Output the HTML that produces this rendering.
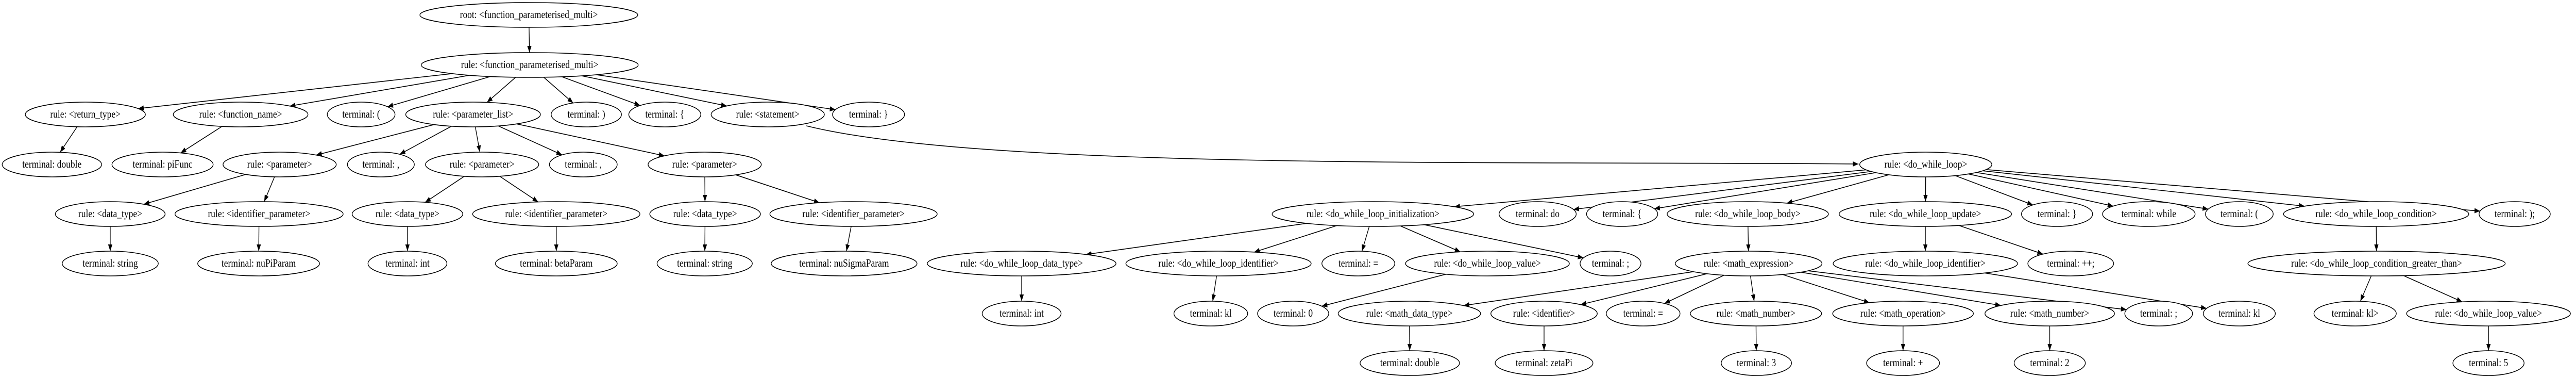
<!DOCTYPE html>
<html><head><meta charset="utf-8"><style>
html,body{margin:0;padding:0;background:#fff;overflow:hidden;width:100%;height:731px;}
svg{display:block;width:100%;height:731px;}
text{font-family:"Liberation Serif",serif;font-size:21px;text-anchor:middle;dominant-baseline:central;fill:#000;}
ellipse{fill:#fff;stroke:#000;stroke-width:1.6;}
</style></head><body>
<svg id="s" viewBox="0 0 6006 731" preserveAspectRatio="none" xmlns="http://www.w3.org/2000/svg">
<defs><marker id="a" markerUnits="userSpaceOnUse" markerWidth="14" markerHeight="10" refX="13" refY="5" orient="auto"><path d="M0,0 L13,5 L0,10 z" fill="#000"/></marker></defs>
<g id="edges" stroke="#000" stroke-width="1.6" fill="none">
<path d="M1880 244 C2300 330, 3500 312, 4333 318" marker-end="url(#a)"/>
</g>
<g id="nodes">
<ellipse id="n0" cx="1233" cy="29" rx="254" ry="24"/><text x="1233" y="29">root: &lt;function_parameterised_multi&gt;</text>
<ellipse id="n1" cx="1235" cy="126" rx="253" ry="24"/><text x="1235" y="126">rule: &lt;function_parameterised_multi&gt;</text>

<ellipse id="rt" cx="199" cy="222" rx="140" ry="24"/><text x="199" y="222">rule: &lt;return_type&gt;</text>
<ellipse id="fn" cx="561" cy="222" rx="157" ry="24"/><text x="561" y="222">rule: &lt;function_name&gt;</text>
<ellipse id="lp" cx="842" cy="222" rx="79" ry="24"/><text x="842" y="222">terminal: (</text>
<ellipse id="pl" cx="1103" cy="222" rx="157" ry="24"/><text x="1103" y="222">rule: &lt;parameter_list&gt;</text>
<ellipse id="rp" cx="1367" cy="222" rx="82" ry="24"/><text x="1367" y="222">terminal: )</text>
<ellipse id="lb" cx="1550" cy="222" rx="84" ry="24"/><text x="1550" y="222">terminal: {</text>
<ellipse id="st" cx="1790" cy="222" rx="132" ry="24"/><text x="1790" y="222">rule: &lt;statement&gt;</text>
<ellipse id="rb" cx="2025" cy="222" rx="84" ry="24"/><text x="2025" y="222">terminal: }</text>

<ellipse id="tdbl" cx="121" cy="319" rx="116" ry="24"/><text x="121" y="319">terminal: double</text>
<ellipse id="tpf" cx="379" cy="319" rx="118" ry="24"/><text x="379" y="319">terminal: piFunc</text>
<ellipse id="p1" cx="652" cy="319" rx="132" ry="24"/><text x="652" y="319">rule: &lt;parameter&gt;</text>
<ellipse id="c1" cx="888" cy="319" rx="78" ry="24"/><text x="888" y="319">terminal: ,</text>
<ellipse id="p2" cx="1124" cy="319" rx="132" ry="24"/><text x="1124" y="319">rule: &lt;parameter&gt;</text>
<ellipse id="c2" cx="1360" cy="319" rx="79" ry="24"/><text x="1360" y="319">terminal: ,</text>
<ellipse id="p3" cx="1643" cy="319" rx="132" ry="24"/><text x="1643" y="319">rule: &lt;parameter&gt;</text>
<ellipse id="dw" cx="4490" cy="319" rx="154" ry="24"/><text x="4490" y="319">rule: &lt;do_while_loop&gt;</text>

<ellipse id="dt1" cx="257" cy="415" rx="128" ry="24"/><text x="257" y="415">rule: &lt;data_type&gt;</text>
<ellipse id="ip1" cx="604" cy="415" rx="196" ry="24"/><text x="604" y="415">rule: &lt;identifier_parameter&gt;</text>
<ellipse id="dt2" cx="950" cy="415" rx="129" ry="24"/><text x="950" y="415">rule: &lt;data_type&gt;</text>
<ellipse id="ip2" cx="1297" cy="415" rx="195" ry="24"/><text x="1297" y="415">rule: &lt;identifier_parameter&gt;</text>
<ellipse id="dt3" cx="1644" cy="415" rx="129" ry="24"/><text x="1644" y="415">rule: &lt;data_type&gt;</text>
<ellipse id="ip3" cx="1990" cy="415" rx="195" ry="24"/><text x="1990" y="415">rule: &lt;identifier_parameter&gt;</text>
<ellipse id="ini" cx="3201" cy="415" rx="235" ry="24"/><text x="3201" y="415">rule: &lt;do_while_loop_initialization&gt;</text>
<ellipse id="tdo" cx="3585" cy="415" rx="90" ry="24"/><text x="3585" y="415">terminal: do</text>
<ellipse id="tlb2" cx="3782" cy="415" rx="83" ry="24"/><text x="3782" y="415">terminal: {</text>
<ellipse id="bod" cx="4075" cy="415" rx="188" ry="24"/><text x="4075" y="415">rule: &lt;do_while_loop_body&gt;</text>
<ellipse id="upd" cx="4489" cy="415" rx="201" ry="24"/><text x="4489" y="415">rule: &lt;do_while_loop_update&gt;</text>
<ellipse id="trb2" cx="4796" cy="415" rx="83" ry="24"/><text x="4796" y="415">terminal: }</text>
<ellipse id="twh" cx="5010" cy="415" rx="108" ry="24"/><text x="5010" y="415">terminal: while</text>
<ellipse id="tlp2" cx="5221" cy="415" rx="79" ry="24"/><text x="5221" y="415">terminal: (</text>
<ellipse id="cond" cx="5540" cy="415" rx="216" ry="24"/><text x="5540" y="415">rule: &lt;do_while_loop_condition&gt;</text>
<ellipse id="trp2" cx="5863" cy="415" rx="83" ry="24"/><text x="5863" y="415">terminal: );</text>

<ellipse id="s1" cx="257" cy="511" rx="112" ry="24"/><text x="257" y="511">terminal: string</text>
<ellipse id="np" cx="603" cy="511" rx="142" ry="24"/><text x="603" y="511">terminal: nuPiParam</text>
<ellipse id="i1" cx="950" cy="511" rx="92" ry="24"/><text x="950" y="511">terminal: int</text>
<ellipse id="bp" cx="1297" cy="511" rx="142" ry="24"/><text x="1297" y="511">terminal: betaParam</text>
<ellipse id="s2" cx="1643" cy="511" rx="111" ry="24"/><text x="1643" y="511">terminal: string</text>
<ellipse id="ns" cx="1968" cy="511" rx="170" ry="24"/><text x="1968" y="511">terminal: nuSigmaParam</text>
<ellipse id="idt" cx="2382" cy="511" rx="220" ry="24"/><text x="2382" y="511">rule: &lt;do_while_loop_data_type&gt;</text>
<ellipse id="iid" cx="2841" cy="511" rx="216" ry="24"/><text x="2841" y="511">rule: &lt;do_while_loop_identifier&gt;</text>
<ellipse id="ieq" cx="3167" cy="511" rx="85" ry="24"/><text x="3167" y="511">terminal: =</text>
<ellipse id="ival" cx="3468" cy="511" rx="191" ry="24"/><text x="3468" y="511">rule: &lt;do_while_loop_value&gt;</text>
<ellipse id="isc" cx="3755" cy="511" rx="71" ry="24"/><text x="3755" y="511">terminal: ;</text>
<ellipse id="me" cx="4077" cy="511" rx="171" ry="24"/><text x="4077" y="511">rule: &lt;math_expression&gt;</text>
<ellipse id="uid" cx="4489" cy="511" rx="215" ry="24"/><text x="4489" y="511">rule: &lt;do_while_loop_identifier&gt;</text>
<ellipse id="upp" cx="4828" cy="511" rx="100" ry="24"/><text x="4828" y="511">terminal: ++;</text>
<ellipse id="cgt" cx="5541" cy="511" rx="300" ry="24"/><text x="5541" y="511">rule: &lt;do_while_loop_condition_greater_than&gt;</text>

<ellipse id="ti" cx="2382" cy="608" rx="92" ry="24"/><text x="2382" y="608">terminal: int</text>
<ellipse id="tk" cx="2823" cy="608" rx="86" ry="24"/><text x="2823" y="608">terminal: kl</text>
<ellipse id="t0" cx="3015" cy="608" rx="83" ry="24"/><text x="3015" y="608">terminal: 0</text>
<ellipse id="mdt" cx="3286" cy="608" rx="166" ry="24"/><text x="3286" y="608">rule: &lt;math_data_type&gt;</text>
<ellipse id="mid" cx="3600" cy="608" rx="124" ry="24"/><text x="3600" y="608">rule: &lt;identifier&gt;</text>
<ellipse id="meq" cx="3831" cy="608" rx="86" ry="24"/><text x="3831" y="608">terminal: =</text>
<ellipse id="mn1" cx="4094" cy="608" rx="153" ry="24"/><text x="4094" y="608">rule: &lt;math_number&gt;</text>
<ellipse id="mo" cx="4437" cy="608" rx="164" ry="24"/><text x="4437" y="608">rule: &lt;math_operation&gt;</text>
<ellipse id="mn2" cx="4779" cy="608" rx="151" ry="24"/><text x="4779" y="608">rule: &lt;math_number&gt;</text>
<ellipse id="msc" cx="5033" cy="608" rx="79" ry="24"/><text x="5033" y="608">terminal: ;</text>
<ellipse id="tk2" cx="5221" cy="608" rx="84" ry="24"/><text x="5221" y="608">terminal: kl</text>
<ellipse id="tkg" cx="5491" cy="608" rx="96" ry="24"/><text x="5491" y="608">terminal: kl&gt;</text>
<ellipse id="cv" cx="5802" cy="608" rx="191" ry="24"/><text x="5802" y="608">rule: &lt;do_while_loop_value&gt;</text>

<ellipse id="td" cx="3287" cy="704" rx="116" ry="24"/><text x="3287" y="704">terminal: double</text>
<ellipse id="tz" cx="3600" cy="704" rx="114" ry="24"/><text x="3600" y="704">terminal: zetaPi</text>
<ellipse id="t3" cx="4095" cy="704" rx="82" ry="24"/><text x="4095" y="704">terminal: 3</text>
<ellipse id="tp" cx="4437" cy="704" rx="85" ry="24"/><text x="4437" y="704">terminal: +</text>
<ellipse id="t2" cx="4779" cy="704" rx="83" ry="24"/><text x="4779" y="704">terminal: 2</text>
<ellipse id="t5" cx="5802" cy="704" rx="83" ry="24"/><text x="5802" y="704">terminal: 5</text>
</g>
</svg>
<script>
var E=[["n0","n1"],["n1","rt"],["n1","fn"],["n1","lp"],["n1","pl"],["n1","rp"],["n1","lb"],["n1","st"],["n1","rb"],
["rt","tdbl"],["fn","tpf"],["pl","p1"],["pl","c1"],["pl","p2"],["pl","c2"],["pl","p3"],
["p1","dt1"],["p1","ip1"],["p2","dt2"],["p2","ip2"],["p3","dt3"],["p3","ip3"],
["dt1","s1"],["ip1","np"],["dt2","i1"],["ip2","bp"],["dt3","s2"],["ip3","ns"],
["dw","ini"],["dw","tdo"],["dw","tlb2"],["dw","bod"],["dw","upd"],["dw","trb2"],["dw","twh"],["dw","tlp2"],["dw","cond"],["dw","trp2"],
["ini","idt"],["ini","iid"],["ini","ieq"],["ini","ival"],["ini","isc"],["bod","me"],["upd","uid"],["upd","upp"],["cond","cgt"],
["idt","ti"],["iid","tk"],["ival","t0"],["me","mdt"],["me","mid"],["me","meq"],["me","mn1"],["me","mo"],["me","mn2"],["me","msc"],
["uid","tk2"],["cgt","tkg"],["cgt","cv"],["mdt","td"],["mid","tz"],["mn1","t3"],["mo","tp"],["mn2","t2"],["cv","t5"]];
function g(id){var e=document.getElementById(id);return{x:+e.getAttribute("cx"),y:+e.getAttribute("cy"),rx:+e.getAttribute("rx"),ry:+e.getAttribute("ry")};}
function b(n,dx,dy){var t=1/Math.sqrt(dx*dx/(n.rx*n.rx)+dy*dy/(n.ry*n.ry));return[n.x+dx*t,n.y+dy*t];}
var G=document.getElementById("edges"),NS="http://www.w3.org/2000/svg";
E.forEach(function(e){var p=g(e[0]),c=g(e[1]);
var s=b(p,c.x-p.x,c.y-p.y),t=b(c,p.x-c.x,p.y-c.y);
var l=document.createElementNS(NS,"line");l.setAttribute("x1",s[0]);l.setAttribute("y1",s[1]);l.setAttribute("x2",t[0]);l.setAttribute("y2",t[1]);l.setAttribute("marker-end","url(#a)");G.appendChild(l);});
</script>
</body></html>
